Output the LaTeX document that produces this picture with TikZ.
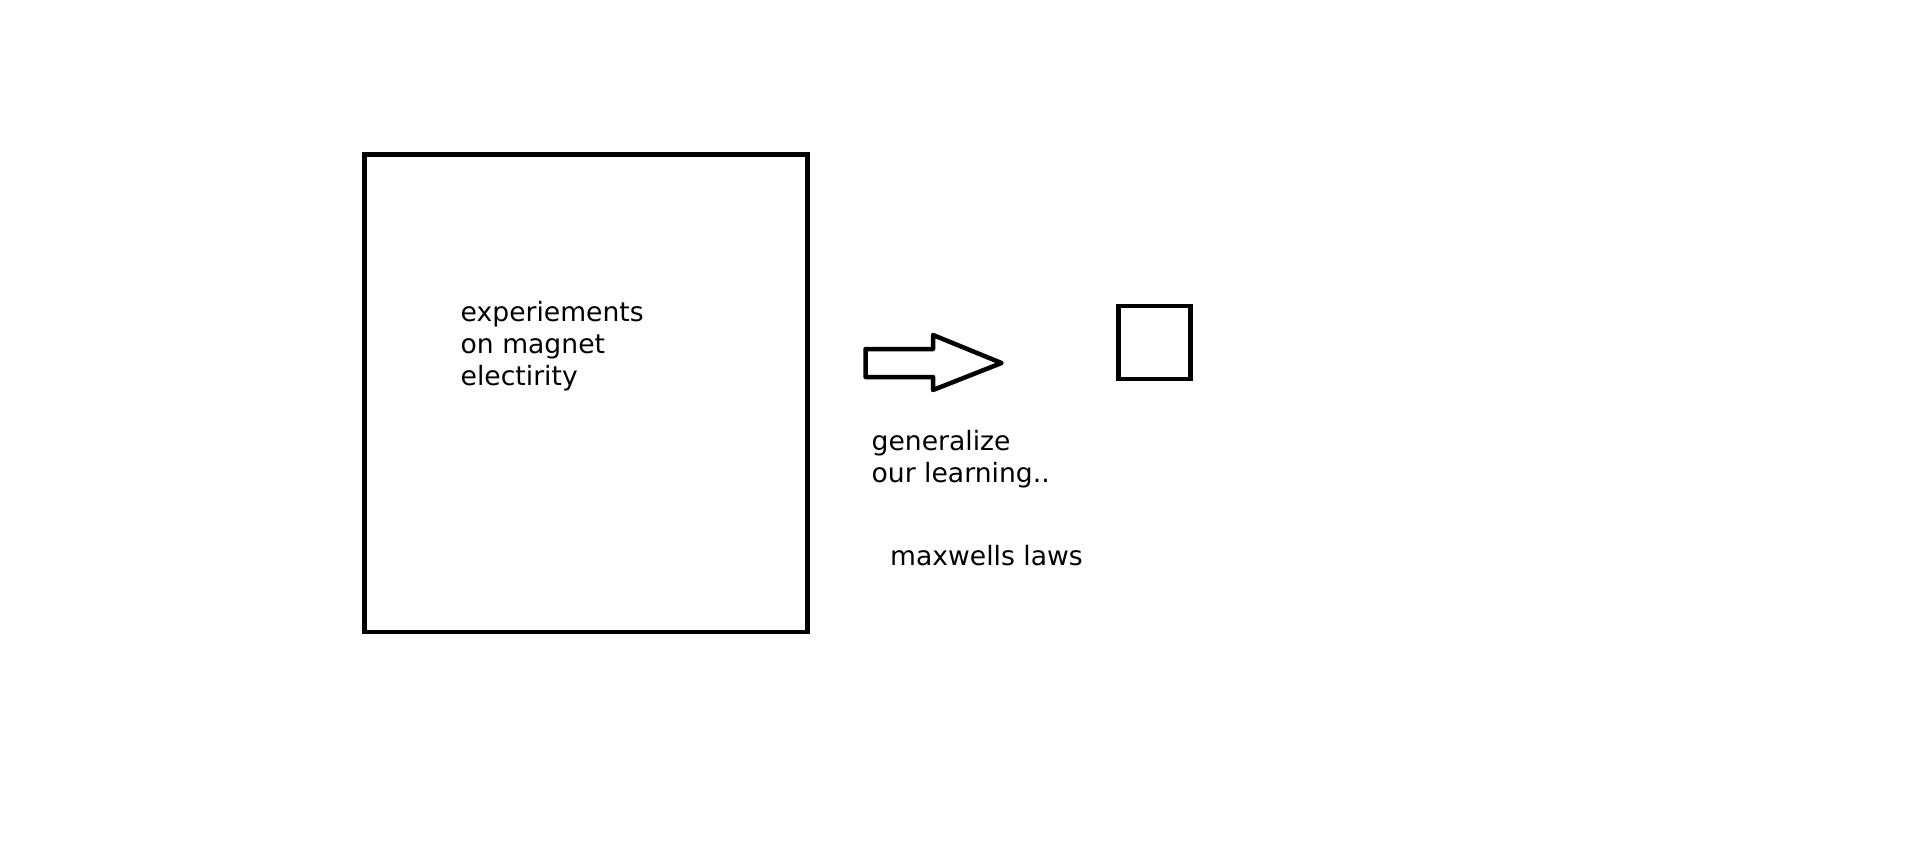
\documentclass[tikz,border=0pt]{standalone}
\usepackage{fontspec}
\setmainfont{DejaVu Sans}
\begin{document}
\begin{tikzpicture}[x=1pt,y=-1pt,
    box/.style={draw, line width=4.5pt, inner sep=0pt},
    lbl/.style={anchor=base west, align=left, inner sep=0pt,
      font=\fontsize{26.6}{31.8}\selectfont}]
  \useasboundingbox (0,0) rectangle (1914,847);
  \node[box, minimum width=443pt, minimum height=477.5pt] (experiments) at (586,393.25) {};
  \node[box, minimum width=72pt, minimum height=73pt] (laws) at (1154.5,342.5) {};
  \draw[line width=4.5pt, line join=round] (865.5,349) -- (933,349) -- (933,335)
    -- (1001.5,363) -- (933,390) -- (933,377) -- (865.5,377) -- cycle;
  % base anchor sits on the last line
  \node[lbl] (explbl) at (460.5,385) {experiements\\on magnet\\electirity};
  \node[lbl] (genlbl) at (871.5,482) {generalize\\our learning..};
  \node[lbl] (maxlbl) at (890,565) {maxwells laws};
\end{tikzpicture}
\end{document}
